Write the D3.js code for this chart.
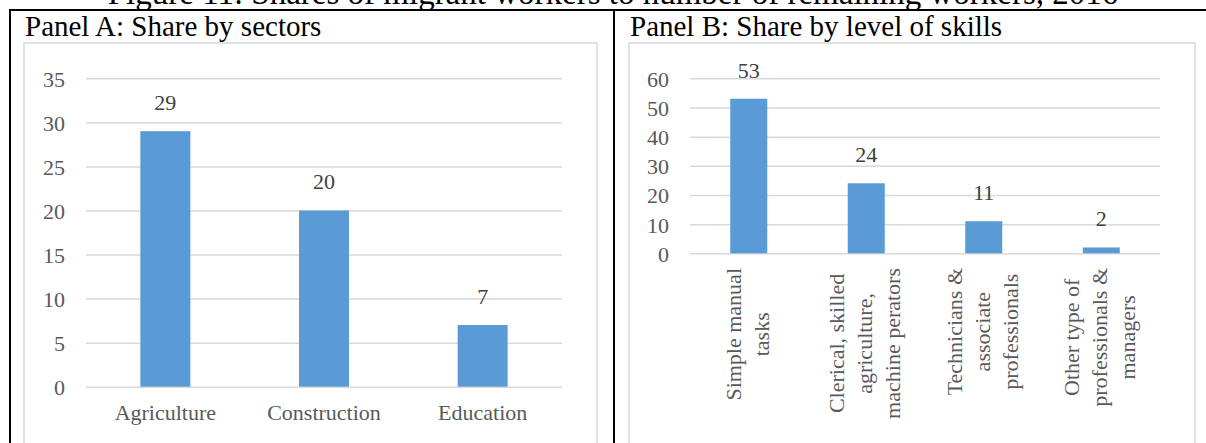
<!DOCTYPE html>
<html>
<head>
<meta charset="utf-8">
<script src="https://cdn.jsdelivr.net/npm/d3@7"></script>
<style>
  html, body { margin: 0; padding: 0; background: #fff; }
  svg { display: block; }
  text { font-family: "Liberation Serif", "Times New Roman", serif; }
</style>
</head>
<body>
<svg id="fig" width="1206" height="443"></svg>
<script>
// Panel A: shares by sector
const sectorCategories = ["Agriculture", "Construction", "Education"];
const sectorValues = [29, 20, 7];
const sectorTicks = [0, 5, 10, 15, 20, 25, 30, 35];

// Panel B: shares by level of skills (each label split into its lines)
const skillCategories = [
  ["Simple manual", "tasks"],
  ["Clerical, skilled", "agriculture,", "machine perators"],
  ["Technicians &", "associate", "professionals"],
  ["Other type of", "professionals &", "managers"]
];
const skillValues = [53, 24, 11, 2];
const skillTicks = [0, 10, 20, 30, 40, 50, 60];

const figureTitle = "Figure 11: Shares of migrant workers to number of remaining workers, 2016";
const panelTitles = ["Panel A: Share by sectors", "Panel B: Share by level of skills"];

const BAR = "#5b9bd5", GRID = "#d9d9d9", TICK_TXT = "#595959", VAL_TXT = "#404040";
const svg = d3.select("#fig");

// Figure caption (runs off the top of the page)
svg.append("text")
  .attr("x", 613).attr("y", 4)
  .attr("text-anchor", "middle")
  .attr("font-size", 33)
  .attr("fill", "#000")
  .text(figureTitle);

// Table rules
const rules = svg.append("g").attr("stroke", "#000").attr("stroke-width", 2);
rules.append("line").attr("x1", 9).attr("x2", 1206).attr("y1", 10).attr("y2", 10);
rules.append("line").attr("x1", 10).attr("x2", 10).attr("y1", 9).attr("y2", 443);
rules.append("line").attr("x1", 614).attr("x2", 614).attr("y1", 9).attr("y2", 443);

// Panel titles
svg.append("text").attr("x", 25).attr("y", 36).attr("font-size", 29).attr("fill", "#000").text(panelTitles[0]);
svg.append("text").attr("x", 630).attr("y", 36).attr("font-size", 29).attr("fill", "#000").text(panelTitles[1]);

// Chart frames
svg.append("rect").attr("x", 24).attr("y", 43).attr("width", 573).attr("height", 420)
  .attr("fill", "none").attr("stroke", GRID).attr("stroke-width", 1.5);
svg.append("rect").attr("x", 629).attr("y", 43).attr("width", 566).attr("height", 420)
  .attr("fill", "none").attr("stroke", GRID).attr("stroke-width", 1.5);

function drawPanel(cfg) {
  const g = svg.append("g");
  const keys = cfg.values.map((d, i) => i);
  const x = d3.scaleBand().domain(keys).range([cfg.x0, cfg.x1])
    .paddingInner(0.685).paddingOuter(0.3425);
  const y = d3.scaleLinear().domain(cfg.domain).range([cfg.y0, cfg.y1]);

  // Gridlines and value axis
  const axis = d3.axisLeft(y).tickValues(cfg.ticks)
    .tickSize(-(cfg.x1 - cfg.x0)).tickPadding(21);
  const ax = g.append("g").attr("transform", `translate(${cfg.x0},0)`).call(axis);
  ax.select(".domain").remove();
  ax.selectAll(".tick line").attr("stroke", GRID).attr("stroke-width", 1.5);
  ax.selectAll(".tick text")
    .attr("font-size", 22).attr("fill", TICK_TXT).attr("dy", "0.36em");

  // Bars
  g.selectAll("rect.bar").data(cfg.values).join("rect")
    .attr("class", "bar")
    .attr("x", (d, i) => x(i))
    .attr("width", x.bandwidth())
    .attr("y", d => y(d))
    .attr("height", d => y(0) - y(d))
    .attr("fill", BAR);

  // Value labels
  g.selectAll("text.val").data(cfg.values).join("text")
    .attr("class", "val")
    .attr("x", (d, i) => x(i) + x.bandwidth() / 2)
    .attr("y", d => y(d) - 21)
    .attr("text-anchor", "middle")
    .attr("font-size", 22).attr("fill", VAL_TXT)
    .text(d => d);

  return { g, x, y };
}

// Panel A
const pA = drawPanel({
  values: sectorValues, ticks: sectorTicks, domain: [0, 35],
  x0: 86, x1: 562, y0: 386.7, y1: 78.3
});
pA.g.selectAll("text.cat").data(sectorCategories).join("text")
  .attr("class", "cat")
  .attr("x", (d, i) => pA.x(i) + pA.x.bandwidth() / 2)
  .attr("y", 420)
  .attr("text-anchor", "middle")
  .attr("font-size", 22).attr("fill", TICK_TXT)
  .text(d => d);

// Panel B
const pB = drawPanel({
  values: skillValues, ticks: skillTicks, domain: [0, 60],
  x0: 690, x1: 1160, y0: 253.3, y1: 78.3
});

// Rotated, multi-line category labels; the longest line starts just below the axis
const LINE = 28, TOP = 268;
skillCategories.forEach((lines, i) => {
  const cx = pB.x(i) + pB.x.bandwidth() / 2;
  const grp = pB.g.append("g");
  const texts = lines.map((ln, j) => grp.append("text")
    .attr("text-anchor", "middle")
    .attr("font-size", 22).attr("fill", TICK_TXT)
    .attr("y", (j - (lines.length - 1) / 2) * LINE + 6)
    .text(ln));
  const maxLen = d3.max(texts, t => t.node().getComputedTextLength());
  texts.forEach(t => t.attr("x", -maxLen / 2));
  grp.attr("transform", `translate(${cx},${TOP}) rotate(-90)`);
});
</script>
</body>
</html>
